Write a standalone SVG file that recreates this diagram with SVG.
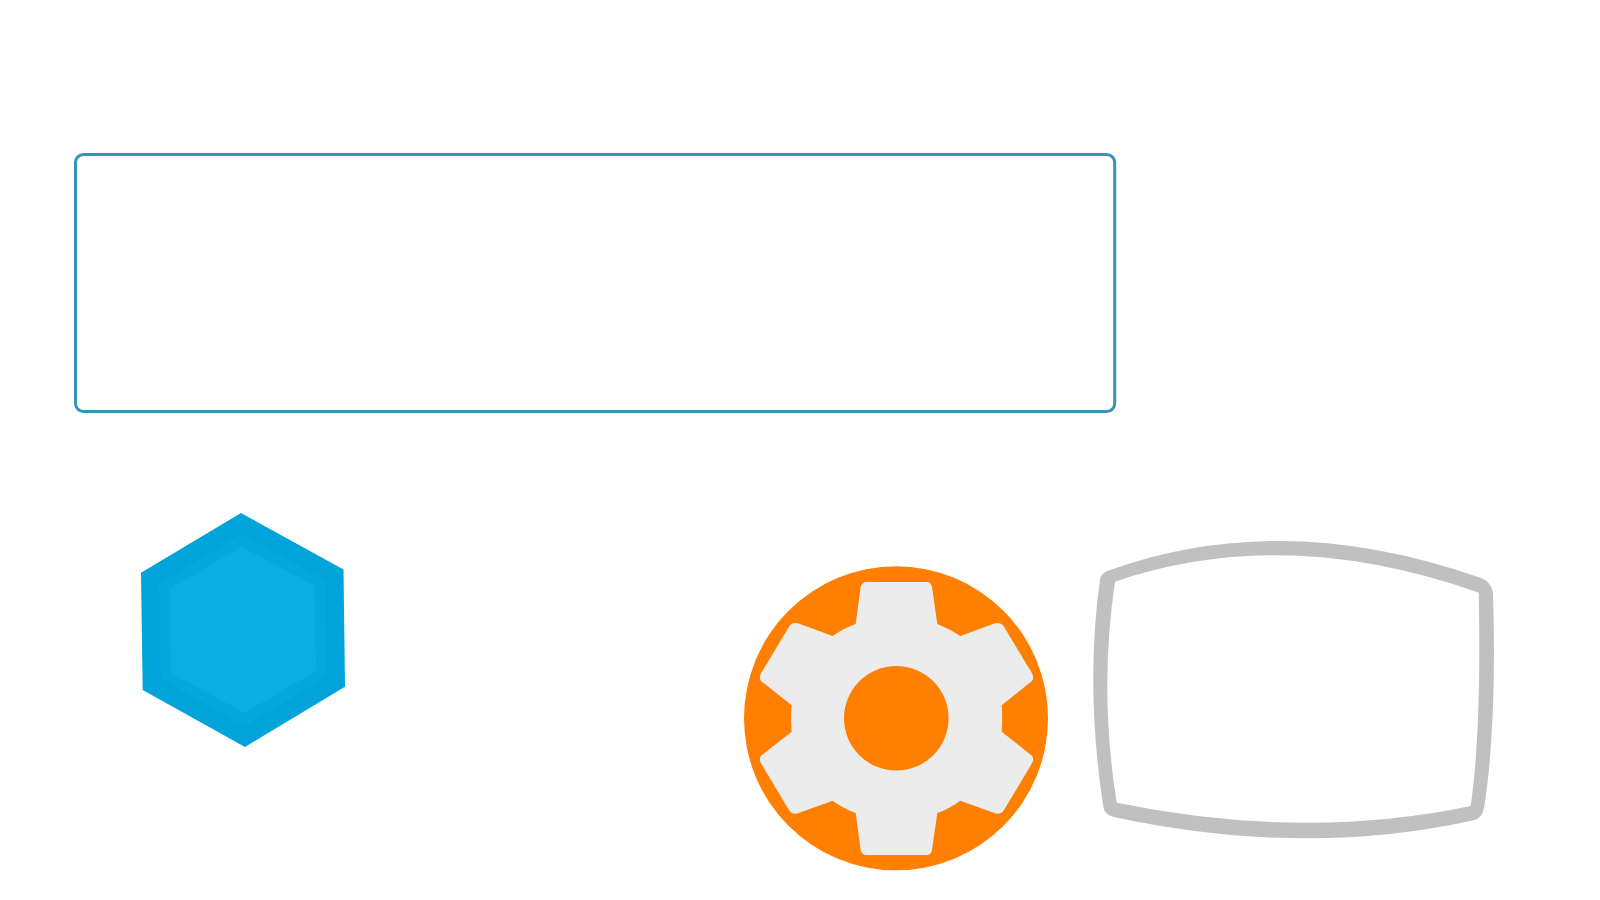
<svg xmlns="http://www.w3.org/2000/svg" width="1600" height="900" viewBox="0 0 1600 900">
<style>
.frame{fill:none;stroke:#3a92b4;stroke-width:3}
.screen{fill:#c0c0c0;fill-rule:evenodd}
</style>
<rect width="1600" height="900" fill="#fff"/>
<g id="frame"><rect class="frame" x="75.5" y="154.5" width="1039.2" height="257" rx="8" ry="8"/></g>
<g id="hexagon">
<polygon fill="#00a3da" points="241,513 343.5,569.5 345,686.7 245,747 142.7,690 141,572.7"/>
<polygon fill="#06a7dd" points="241,534 325,580 327,676.7 245,726 160.7,679 159,583"/>
<polygon fill="#0cade5" points="241.5,546.7 314.7,586 316,670.7 244.7,713 171.3,673 170,589"/>
</g>
<g id="gear">
<circle cx="896" cy="718.3" r="152" fill="#ff7f00"/>
<path transform="translate(720 545) scale(.33333)" fill="#ececec" d="M437,111 L622,111 Q634,113 636,125 L652,237 Q690,252 721,273 L825,235 Q843,230 852,245 L936,385 Q943,398 936,408 L845,481 Q848,520 845,560 L936,632 Q943,642 936,655 L852,795 Q843,810 825,805 L721,767 Q690,790 652,804 L636,915 Q634,928 622,930 L437,930 Q425,928 422,915 L407,804 Q370,790 338,767 L234,805 Q216,810 207,795 L123,655 Q116,642 123,632 L215,560 Q211,520 215,481 L123,408 Q116,398 123,385 L207,245 Q216,230 234,235 L338,273 Q370,250 407,237 L422,125 Q425,113 437,111 Z"/>
<circle cx="896.3" cy="718.3" r="52.3" fill="#ff7f00"/>
</g>
<g id="screen"><path class="screen" d="M1110,570 Q1284,508 1481.7,578.3 Q1491.7,582.7 1493,593.3 C1495,660 1494.5,740 1484.3,806.7 Q1483,817 1475,820 Q1305,858 1115,817.3 Q1104.5,815 1103.3,806.7 Q1085,687 1100,579.3 Q1101,572.3 1110,570 Z M1115,581.7 Q1098.8,690 1116.7,802.7 Q1305,841 1470.7,806 C1480,740 1480,660 1478.7,592.7 Q1284,524 1115,581.7 Z"/></g>
<g id="connectors"></g>
</svg>
